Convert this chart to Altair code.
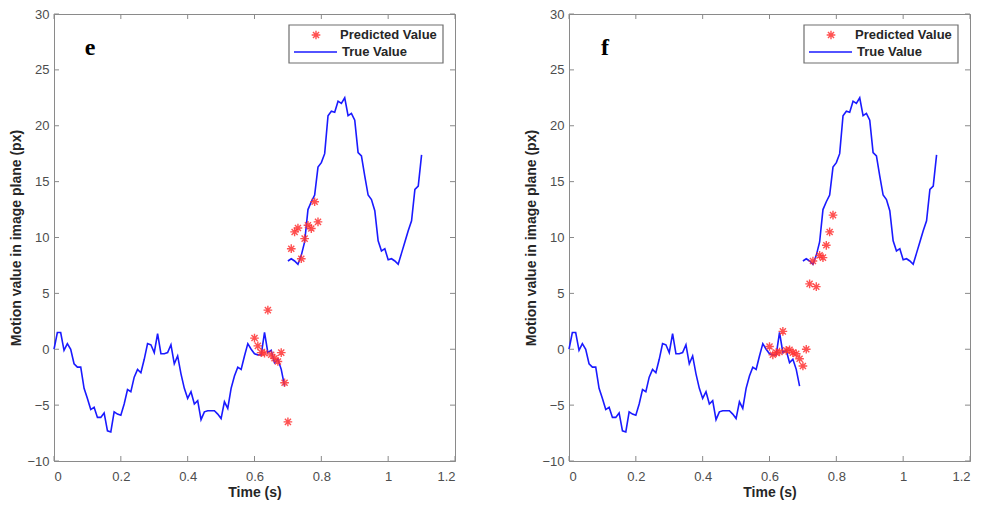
import altair as alt
import pandas as pd

# ---------------- data ----------------
time_seg1 = [0.00, 0.01, 0.02, 0.03, 0.04, 0.05, 0.06, 0.07, 0.08, 0.09,
             0.10, 0.11, 0.12, 0.13, 0.14, 0.15, 0.16, 0.17, 0.18, 0.19,
             0.20, 0.21, 0.22, 0.23, 0.24, 0.25, 0.26, 0.27, 0.28, 0.29,
             0.30, 0.31, 0.32, 0.33, 0.34, 0.35, 0.36, 0.37, 0.38, 0.39,
             0.40, 0.41, 0.42, 0.43, 0.44, 0.45, 0.46, 0.47, 0.48, 0.49,
             0.50, 0.51, 0.52, 0.53, 0.54, 0.55, 0.56, 0.57, 0.58, 0.59,
             0.60, 0.61, 0.62, 0.63, 0.64, 0.65, 0.66, 0.67, 0.68, 0.69]
true_seg1 = [0.0, 1.5, 1.5, -0.1, 0.5, 0.0, -1.3, -1.6, -1.6, -3.5,
             -4.4, -5.4, -5.2, -6.1, -6.1, -5.7, -7.3, -7.4, -5.6, -5.8,
             -5.9, -4.9, -3.6, -3.8, -2.5, -1.8, -2.1, -0.9, 0.5, 0.4,
             -0.3, 1.4, -0.4, -0.4, -0.3, 0.4, -1.3, -0.6, -2.2, -3.5,
             -4.4, -3.8, -4.9, -4.6, -6.3, -5.6, -5.5, -5.5, -5.5, -5.8,
             -6.2, -4.7, -5.3, -3.5, -2.4, -1.6, -1.8, -0.6, 0.5, 0.0,
             -0.4, -0.5, -0.5, 1.5, -0.3, -0.1, -1.2, -0.9, -1.8, -3.3]
time_seg2 = [0.70, 0.71, 0.72, 0.73, 0.74, 0.75, 0.76, 0.77, 0.78, 0.79,
             0.80, 0.81, 0.82, 0.83, 0.84, 0.85, 0.86, 0.87, 0.88, 0.89,
             0.90, 0.91, 0.92, 0.93, 0.94, 0.95, 0.96, 0.97, 0.98, 0.99,
             1.00, 1.01, 1.02, 1.03, 1.04, 1.05, 1.06, 1.07, 1.08, 1.09, 1.10]
true_seg2 = [7.9, 8.1, 7.9, 7.6, 8.4, 9.6, 12.5, 13.2, 13.8, 16.3,
             16.7, 17.5, 20.9, 21.3, 21.2, 22.2, 22.0, 22.5, 20.9, 21.1,
             20.5, 17.6, 17.3, 15.5, 13.8, 13.4, 12.4, 9.7, 8.8, 9.0,
             8.0, 8.1, 7.9, 7.6, 8.6, 9.6, 10.6, 11.5, 14.3, 14.6, 17.4]

time_pred = [0.60, 0.61, 0.62, 0.63, 0.64, 0.65, 0.66, 0.67, 0.68, 0.69,
             0.70, 0.71, 0.72, 0.73, 0.74, 0.75, 0.76, 0.77, 0.78, 0.79]
pred_e = [1.0, 0.3, -0.3, -0.35, 3.5, -0.5, -0.8, -1.1, -0.3, -3.0,
          -6.5, 9.0, 10.5, 10.85, 8.1, 9.9, 11.1, 10.8, 13.2, 11.4]
pred_f = [0.25, -0.5, -0.3, -0.25, 1.6, -0.1, -0.05, -0.3, -0.4, -0.85,
          -1.5, 0.0, 5.85, 7.9, 5.6, 8.4, 8.2, 9.3, 10.5, 12.0]

x_ticks = [0, 0.2, 0.4, 0.6, 0.8, 1.0, 1.2]
y_ticks = [-10, -5, 0, 5, 10, 15, 20, 25, 30]
panel_letters = ["e", "f"]
legend_labels = ["Predicted Value", "True Value"]
x_title = "Time (s)"
y_title = "Motion value in image plane (px)"

# ---------------- build ----------------
W, H = 401, 447
TICK = 5
AXIS_GRAY = "#8a8a8a"
BLUE = "#1a1aff"
RED = "#ff3333"
ASTERISK = "M-1,0L1,0M0,-1L0,1M-0.7,-0.7L0.7,0.7M-0.7,0.7L0.7,-0.7"

true_df = pd.DataFrame({
    "t": time_seg1 + time_seg2,
    "v": true_seg1 + true_seg2,
    "seg": ["a"] * len(time_seg1) + ["b"] * len(time_seg2),
})
xt_df = pd.DataFrame({"t": x_ticks})
yt_df = pd.DataFrame({"v": y_ticks})
one = pd.DataFrame({"k": [0]})

xs = alt.Scale(domain=[0, 1.2], nice=False, zero=False)
ys = alt.Scale(domain=[-10, 30], nice=False, zero=False)


def panel(pred, letter):
    pred_df = pd.DataFrame({"t": time_pred, "v": pred})
    x_enc = alt.X("t:Q", scale=xs, title=x_title,
                  axis=alt.Axis(values=x_ticks, format="~g", labelPadding=9, titlePadding=2))
    y_enc = alt.Y("v:Q", scale=ys, title=y_title,
                  axis=alt.Axis(values=y_ticks, labelPadding=5, titlePadding=3))

    line = alt.Chart(true_df).mark_line(color=BLUE, strokeWidth=1.6).encode(
        x=x_enc, y=y_enc, detail="seg:N", order="t:Q")
    pts = alt.Chart(pred_df).mark_point(
        shape=ASTERISK, size=75, color=RED, strokeWidth=1.4, filled=False, opacity=0.85
    ).encode(x=alt.X("t:Q", scale=xs), y=alt.Y("v:Q", scale=ys))

    tb = alt.Chart(xt_df).mark_rule(color=AXIS_GRAY, strokeWidth=1).encode(
        x=alt.X("t:Q", scale=xs), y=alt.value(H), y2=alt.value(H - TICK))
    tt = alt.Chart(xt_df).mark_rule(color=AXIS_GRAY, strokeWidth=1).encode(
        x=alt.X("t:Q", scale=xs), y=alt.value(0), y2=alt.value(TICK))
    tl = alt.Chart(yt_df).mark_rule(color=AXIS_GRAY, strokeWidth=1).encode(
        y=alt.Y("v:Q", scale=ys), x=alt.value(0), x2=alt.value(TICK))
    tr = alt.Chart(yt_df).mark_rule(color=AXIS_GRAY, strokeWidth=1).encode(
        y=alt.Y("v:Q", scale=ys), x=alt.value(W), x2=alt.value(W - TICK))

    box = alt.Chart(one).mark_rect(fill="white", stroke="#6e6e6e", strokeWidth=1.2).encode(
        x=alt.value(235), x2=alt.value(389), y=alt.value(11), y2=alt.value(49))
    star = alt.Chart(one).mark_point(
        shape=ASTERISK, size=75, color=RED, strokeWidth=1.4, filled=False, opacity=0.85
    ).encode(x=alt.value(262), y=alt.value(21))
    lline = alt.Chart(one).mark_rule(color=BLUE, strokeWidth=1.6).encode(
        x=alt.value(240), x2=alt.value(283), y=alt.value(38))
    t1 = alt.Chart(one).mark_text(
        align="left", baseline="middle", font="Liberation Sans", fontSize=13,
        fontWeight="bold", color="#262626"
    ).encode(x=alt.value(286), y=alt.value(21), text=alt.value(legend_labels[0]))
    t2 = alt.Chart(one).mark_text(
        align="left", baseline="middle", font="Liberation Sans", fontSize=13,
        fontWeight="bold", color="#262626"
    ).encode(x=alt.value(288), y=alt.value(38), text=alt.value(legend_labels[1]))
    let = alt.Chart(one).mark_text(
        align="center", baseline="middle", font="Liberation Serif", fontSize=24,
        fontWeight="bold", color="black"
    ).encode(x=alt.value(36), y=alt.value(34), text=alt.value(letter))

    return alt.layer(line, pts, tb, tt, tl, tr, box, star, lline, t1, t2, let).properties(
        width=W, height=H)


chart = alt.hconcat(panel(pred_e, panel_letters[0]), panel(pred_f, panel_letters[1]),
                    spacing=68).properties(
    padding={"left": 1, "top": -1, "right": 0, "bottom": 0}
).configure_view(stroke=AXIS_GRAY, strokeWidth=1).configure_axis(
    grid=False, ticks=False, domainColor=AXIS_GRAY, domainWidth=1,
    labelFont="Liberation Sans", labelFontSize=13, labelColor="#4d4d4d",
    titleFont="Liberation Sans", titleFontSize=14, titleFontWeight="bold",
    titleColor="#262626"
)

chart.save("out.html", embed_options={"renderer": "svg", "actions": False})
